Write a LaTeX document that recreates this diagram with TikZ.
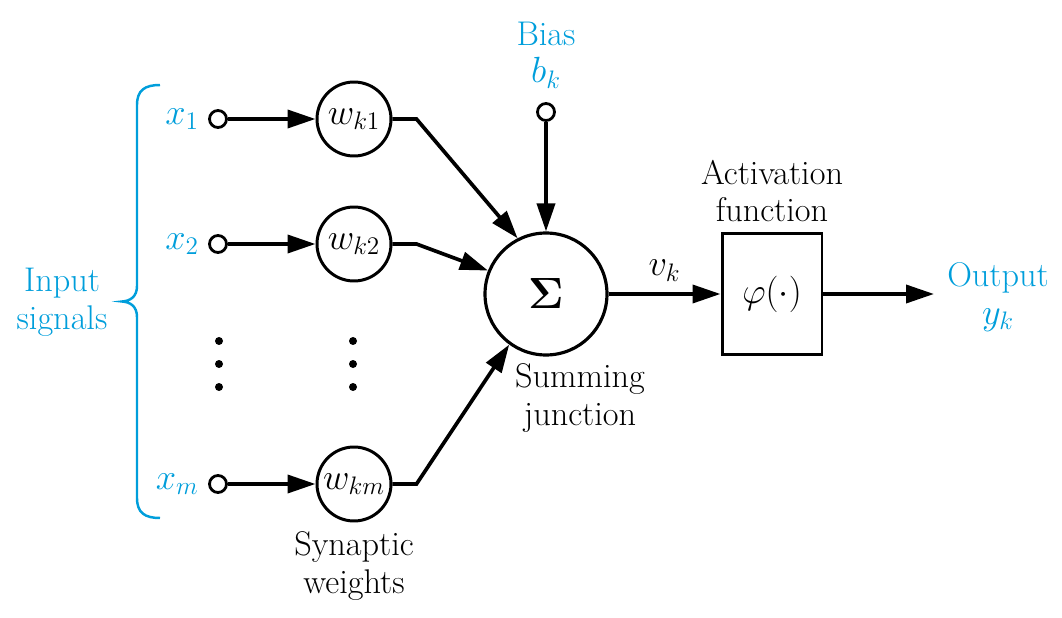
\documentclass[tikz,border=0pt]{standalone}
\usetikzlibrary{arrows.meta}
\definecolor{sigblue}{RGB}{0,158,219}

\begin{document}
\begin{tikzpicture}[x=0.02cm,y=-0.02cm,
    font=\fontsize{19.5}{21.5}\selectfont,
    wire/.style={line width=2.1pt},
    arr/.style={wire,-{Triangle[length=0.56cm,width=0.36cm]}},
    term/.style={circle,draw,line width=1.6pt,inner sep=0pt,minimum size=0.34cm},
    weight/.style={circle,draw,line width=1.7pt,inner sep=0pt,minimum size=1.48cm},
    lbl/.style={align=center,text=sigblue}]
    \useasboundingbox (0,0) rectangle (1062,618);

    % Inputs and synaptic weights
    \foreach \y/\i/\w in {119/1/a,244/2/b,484/m/c}
    {
        \node[text=sigblue, anchor=east] (xl\w) at (205,\y) {$x_{\i}$};
        \node[term] (x\w) at (218,\y) {};
        \node[weight] (w\w) at (354,\y) {$w_{k\i}$};
        \draw[arr] (x\w) -- (w\w);
    }
    \foreach \x in {219,353}
        \foreach \y in {341,364,387}
            \fill (\x,\y) circle (4);

    % Input brace
    \draw[sigblue, line width=1.4pt] (160,85) .. controls (145,85) and (137,90) .. (137,105)
        -- (137,286) .. controls (137,297) and (130,301) .. (122,301.5)
        .. controls (130,302) and (137,306) .. (137,317)
        -- (137,498) .. controls (137,513) and (145,518) .. (160,518);
    \node[lbl] (inlbl) at (62,302) {Input\\signals};

    % Summing junction
    \node[circle, draw, line width=1.8pt, minimum size=2.44cm] (sum) at (546,294)
        {\fontsize{29}{29}\selectfont$\mathbf{\Sigma}$};
    \node[align=center] (sumlbl) at (580,398) {Summing\\junction};
    \draw[arr] (wa.east) -- ++(24,0) -- (sum.117);
    \draw[arr] (wb.east) -- ++(24,0) -- (sum.158);
    \draw[arr] (wc.east) -- ++(24,0) -- (sum.234);
    \node[align=center] (wlbl) at (354,566) {Synaptic\\weights};

    % Bias
    \node[term] (bias) at (546,112) {};
    \node[lbl] (biaslbl) at (546,55) {Bias\\$b_k$};
    \draw[arr] (bias) -- (sum);

    % Activation and output
    \node[draw, line width=1.7pt, minimum width=2cm, minimum height=2.42cm] (act) at (772,294)
        {$\varphi(\cdot)$};
    \node[align=center] (actlbl) at (772,191) {Activation\\function};
    \draw[arr] (sum) -- node[above=3pt] (vk) {$v_k$} (act);
    \coordinate (out) at (934,294);
    \draw[arr] (act) -- (out);
    \node[lbl] (outlbl) at (998,297) {Output\\$y_k$};
\end{tikzpicture}
\end{document}
